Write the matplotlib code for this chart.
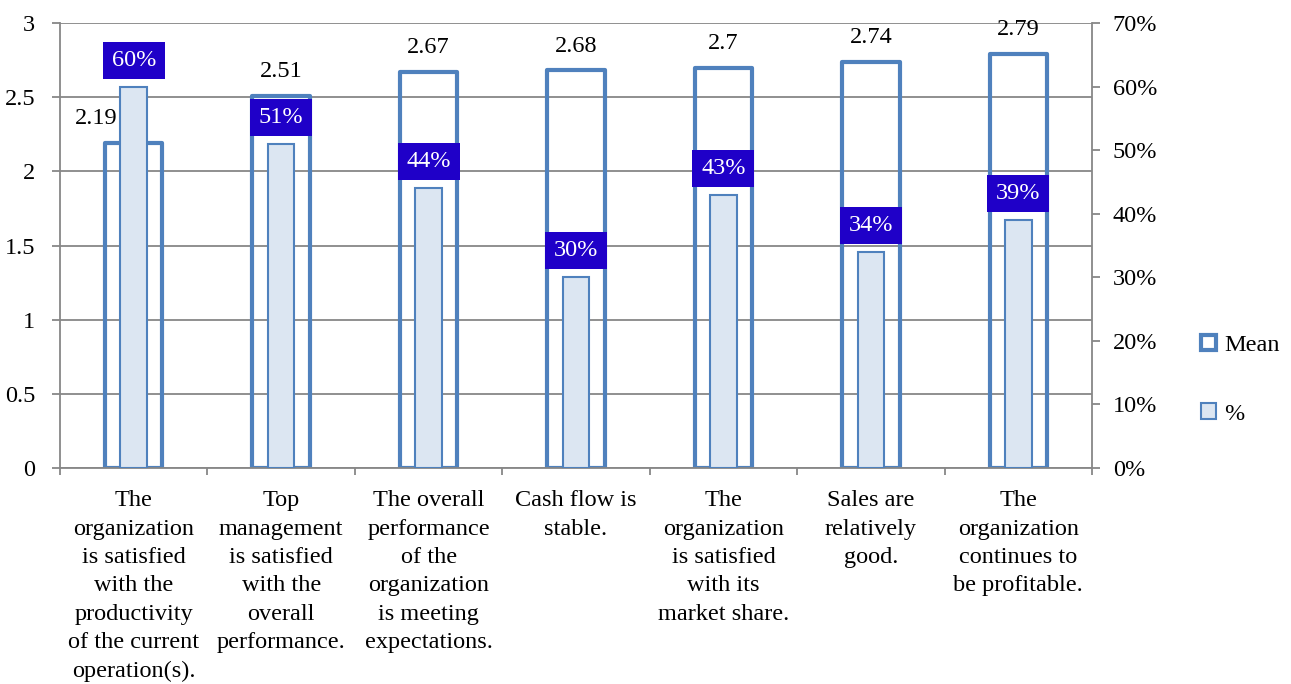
import matplotlib
matplotlib.use("Agg")
import matplotlib.pyplot as plt
from matplotlib.patches import Patch, Rectangle
import numpy as np

plt.rcParams['font.family'] = ['Liberation Serif', 'DejaVu Serif']

categories = [
    "The\norganization\nis satisfied\nwith the\nproductivity\nof the current\noperation(s).",
    "Top\nmanagement\nis satisfied\nwith the\noverall\nperformance.",
    "The overall\nperformance\nof the\norganization\nis meeting\nexpectations.",
    "Cash flow is\nstable.",
    "The\norganization\nis satisfied\nwith its\nmarket share.",
    "Sales are\nrelatively\ngood.",
    "The\norganization\ncontinues to\nbe profitable.",
]
mean_values = [2.19, 2.51, 2.67, 2.68, 2.70, 2.74, 2.79]
pct_values = [0.60, 0.51, 0.44, 0.30, 0.43, 0.34, 0.39]
mean_labels = ["2.19", "2.51", "2.67", "2.68", "2.7", "2.74", "2.79"]
pct_labels = ["60%", "51%", "44%", "30%", "43%", "34%", "39%"]
left_ticks = [0, 0.5, 1, 1.5, 2, 2.5, 3]
left_ticklabels = ["0", "0.5", "1", "1.5", "2", "2.5", "3"]
right_ticks = [0, 0.1, 0.2, 0.3, 0.4, 0.5, 0.6, 0.7]
right_ticklabels = ["0%", "10%", "20%", "30%", "40%", "50%", "60%", "70%"]

BLUE = '#4F81BD'
LIGHT = '#DCE6F2'
BOX = '#1F00C8'
GRID = '#878787'
FS = 17.5

W, H = 1291, 684
fig = plt.figure(figsize=(W / 100, H / 100), dpi=100)
ax = fig.add_axes([60 / W, 1 - 468 / H, (1092 - 60) / W, (468 - 23) / H])
ax2 = ax.twinx()

x = np.arange(len(categories))

# Mean bars (outline only)
mean_bars = ax.bar(x, mean_values, width=0.39, facecolor='none', edgecolor=BLUE,
                   linewidth=3, zorder=2)
for p in mean_bars:
    p.set_joinstyle('round')
ax.set_ylim(0, 3)
ax.set_xlim(-0.5, len(categories) - 0.5)
ax.set_yticks(left_ticks)
ax.set_yticklabels(left_ticklabels, fontsize=FS)
ax.yaxis.grid(True, color=GRID, linewidth=1.3)
ax.set_axisbelow(True)

# x ticks: marks at boundaries, labels at centers
ax.set_xticks(np.arange(len(categories) + 1) - 0.5)
ax.set_xticklabels([])
ax.set_xticks(x, minor=True)
ax.set_xticklabels(categories, minor=True, fontsize=FS, linespacing=1.46)
ax.tick_params(axis='x', which='minor', length=0, pad=16)
ax.tick_params(axis='x', which='major', length=5, color=GRID, width=1.3)
ax.tick_params(axis='y', length=6, color=GRID, width=1.3, pad=12)

for s in ['top', 'right']:
    ax.spines[s].set_visible(False)
for s in ['left', 'bottom']:
    ax.spines[s].set_color(GRID)
    ax.spines[s].set_linewidth(1.3)

# mean labels
for i, (v, lab) in enumerate(zip(mean_values, mean_labels)):
    dx = -27 if i == 0 else 0
    ax.annotate(lab, (x[i], v), xytext=(dx, 17.5), textcoords='offset points',
                ha='center', va='center', fontsize=FS, zorder=5)

# percent bars
ax2.bar(x, pct_values, width=0.18, facecolor=LIGHT, edgecolor=BLUE,
        linewidth=1.5, zorder=3)
ax2.set_ylim(0, 0.7)
ax2.set_yticks(right_ticks)
ax2.set_yticklabels(right_ticklabels, fontsize=FS)
ax2.tick_params(axis='y', length=6, color=GRID, width=1.3, pad=9)
for s in ['top', 'left', 'bottom']:
    ax2.spines[s].set_visible(False)
ax2.spines['right'].set_color(GRID)
ax2.spines['right'].set_linewidth(1.3)

# percent label boxes
px_per_unit = (468 - 23) / 0.7
box_h = 37 / px_per_unit
box_w = 62 / ((1092 - 60) / len(categories))
offset = 26.5 / px_per_unit
for i, (v, lab) in enumerate(zip(pct_values, pct_labels)):
    cy = v + offset
    ax2.add_patch(Rectangle((x[i] - box_w / 2, cy - box_h / 2), box_w, box_h,
                            facecolor=BOX, edgecolor='none', zorder=6))
    ax2.text(x[i], cy, lab, ha='center', va='center', color='white',
             fontsize=FS, zorder=7)

# legend
handles = [Patch(facecolor='white', edgecolor=BLUE, linewidth=3, label='Mean'),
           Patch(facecolor=LIGHT, edgecolor=BLUE, linewidth=1.5, label='%')]
fig.legend(handles=handles, loc='center left', bbox_to_anchor=(0.921, 0.445),
           frameon=False, fontsize=FS, handlelength=0.6, handleheight=0.6,
           handletextpad=0.35, labelspacing=1.95, borderpad=0)

fig.savefig('out.png', dpi=100)
